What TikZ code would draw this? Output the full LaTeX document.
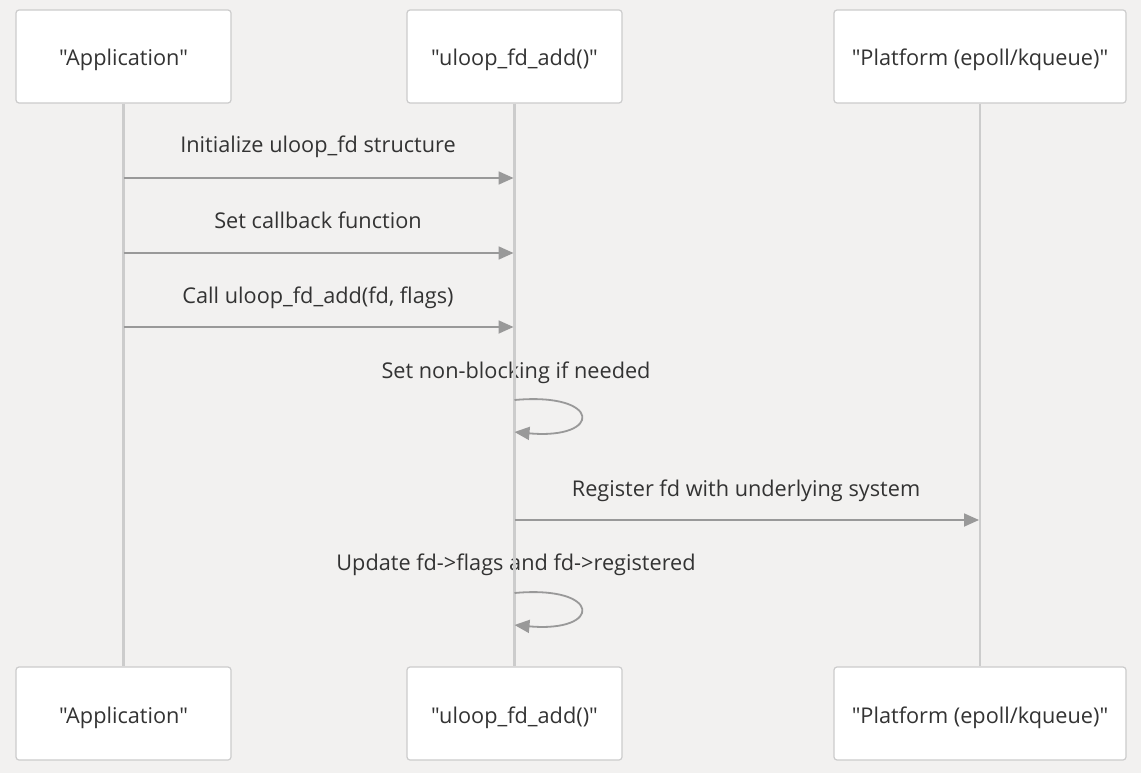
\documentclass[tikz,border=0pt]{standalone}
\usepackage{fontspec}
\newfontfamily\ofont{Open Sans}
\usetikzlibrary{arrows.meta}
\definecolor{bg}{HTML}{F2F1F0}
\definecolor{boxborder}{HTML}{CCCCCC}
\definecolor{life}{HTML}{CCCCCC}
\definecolor{msg}{HTML}{999999}
\definecolor{txt}{HTML}{333333}
\begin{document}
\begin{tikzpicture}[x=1pt,y=-1pt,
  actor/.style={draw=boxborder,line width=1.2pt,fill=white,rounded corners=3pt,minimum height=93pt,text=txt,font=\ofont\fontsize{21.7}{24}\selectfont,inner sep=0pt,text height=21pt,text depth=2pt},
  lifeline/.style={draw=life,line width=2.2pt},
  msgline/.style={draw=msg,line width=1.8pt,-{Triangle[length=15pt,width=13pt]}},
  lbl/.style={text=txt,font=\ofont\fontsize{21.7}{24}\selectfont,inner sep=0pt,anchor=base}]
\fill[bg] (0,0) rectangle (1141,773);
\useasboundingbox (0,0) rectangle (1141,773);
% top actors
\node[actor,minimum width=215pt] (a1) at (123.5,56.5) {"Application"};
\node[actor,minimum width=215pt] (u1) at (514.5,56.5) {"uloop\_fd\_add()"};
\node[actor,minimum width=292pt] (p1) at (980,56.5) {"Platform (epoll/kqueue)"};
% bottom actors
\node[actor,minimum width=215pt] (a2) at (123.5,713.5) {"Application"};
\node[actor,minimum width=215pt] (u2) at (514.5,713.5) {"uloop\_fd\_add()"};
\node[actor,minimum width=292pt] (p2) at (980,713.5) {"Platform (epoll/kqueue)"};
% labels
\node[lbl] (l1) at (318,153) {Initialize uloop\_fd structure};
\node[lbl] (l2) at (318,228) {Set callback function};
\node[lbl] (l3) at (318,303) {Call uloop\_fd\_add(fd, flags)};
\node[lbl] (l4) at (516,378) {Set non-blocking if needed};
\node[lbl] (l5) at (746,496) {Register fd with underlying system};
\node[lbl] (l6) at (516,570) {Update fd->flags and fd->registered};
% lifelines
\draw[lifeline] (a1.south) -- (a2.north);
\draw[lifeline] (u1.south) -- (u2.north);
\draw[lifeline] (p1.south) -- (p2.north);
% coordinates on lifelines
\coordinate (a178) at (a1.south |- 0,178);
\coordinate (u178) at (u1.south |- 0,178);
\coordinate (a253) at (a1.south |- 0,253);
\coordinate (u253) at (u1.south |- 0,253);
\coordinate (a327) at (a1.south |- 0,327);
\coordinate (u327) at (u1.south |- 0,327);
\coordinate (u520) at (u1.south |- 0,520);
\coordinate (p520) at (p1.south |- 0,520);
\coordinate (s1) at (u1.south |- 0,400);
\coordinate (e1) at (u1.south |- 0,432);
\coordinate (s2) at (u1.south |- 0,593);
\coordinate (e2) at (u1.south |- 0,625);
% messages
\draw[msgline,shorten >=1pt] (a178) -- (u178);
\draw[msgline,shorten >=1pt] (a253) -- (u253);
\draw[msgline,shorten >=1pt] (a327) -- (u327);
\draw[msgline] (s1) .. controls ++(88,-8) and ++(88,8) .. (e1);
\draw[msgline,shorten >=1pt] (u520) -- (p520);
\draw[msgline] (s2) .. controls ++(88,-8) and ++(88,8) .. (e2);
\end{tikzpicture}
\end{document}
